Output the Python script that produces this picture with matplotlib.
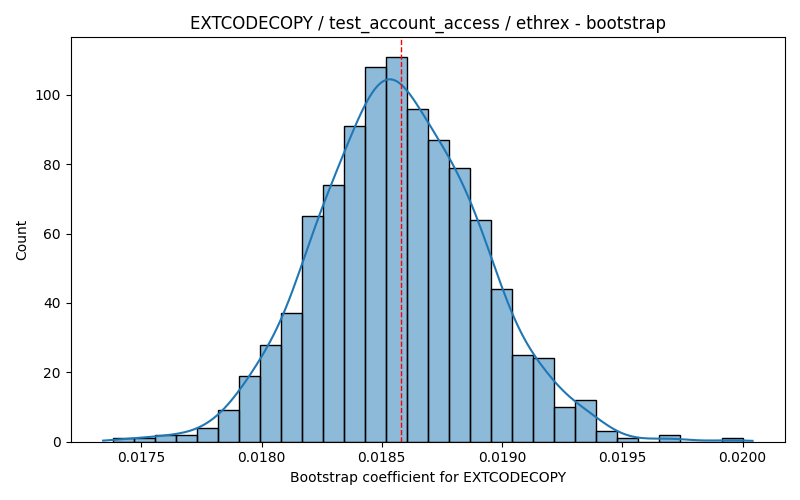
import numpy as np
import matplotlib
matplotlib.use("Agg")
import matplotlib.pyplot as plt
import seaborn as sns

# ─── DATA ──────────────────────────────────────────────────
X_MIN = 0.017383
X_MAX = 0.020000
N_BINS = 30
COUNTS = [1, 1, 2, 2, 4, 9, 19, 28, 37, 65,
          74, 91, 108, 111, 96, 87, 79, 64, 44, 25,
          24, 10, 12, 3, 1, 0, 2, 0, 0, 1]
MEAN_VALUE = 0.018582

TITLE = "EXTCODECOPY / test_account_access / ethrex - bootstrap"
XLABEL = "Bootstrap coefficient for EXTCODECOPY"
YLABEL = "Count"


def main():
    edges = np.linspace(X_MIN, X_MAX, N_BINS + 1)
    centers = (edges[:-1] + edges[1:]) / 2
    counts = np.array(COUNTS, dtype=float)

    # weighted kde on bin centers: shrink bandwidth to act like 1000 samples
    n_eff = counts.sum() ** 2 / (counts ** 2).sum()
    bw_adj = (counts.sum() / n_eff) ** (-1 / 5)
    mean = np.average(centers, weights=counts)
    std = np.sqrt(np.average((centers - mean) ** 2, weights=counts))
    bw = bw_adj * n_eff ** (-1 / 5) * std
    half_bin = (edges[1] - edges[0]) / 2

    fig, ax = plt.subplots(figsize=(8, 5))
    sns.histplot(
        x=centers,
        weights=counts,
        bins=list(edges),  # list, not array (seaborn compares bins == "auto")
        kde=True,
        kde_kws=dict(bw_adjust=bw_adj, cut=half_bin / bw),
        ax=ax,
    )
    ax.axvline(MEAN_VALUE, color="red", linestyle="--", linewidth=1)

    ax.set_title(TITLE)
    ax.set_xlabel(XLABEL)
    ax.set_ylabel(YLABEL)
    fig.tight_layout()
    fig.savefig("out.png", dpi=100)


if __name__ == "__main__":
    main()
